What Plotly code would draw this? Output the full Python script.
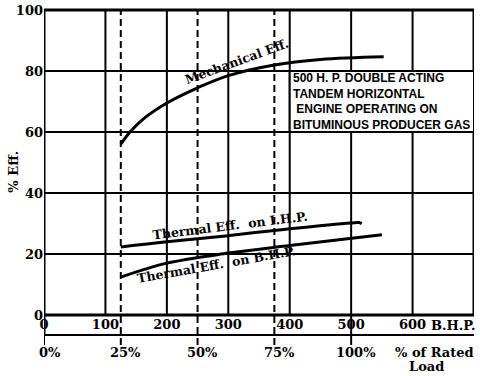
import plotly.graph_objects as go

# Engine load in brake horse power (B.H.P.), rated load 500 B.H.P.
rated_bhp = 500
pct_of_rated = [0, 25, 50, 75, 100]
pct_labels = ["0%", "25%", "50%", "75%", "100%"]
bhp_ticks = [0, 100, 200, 300, 400, 500, 600]
eff_ticks = [0, 20, 40, 60, 80, 100]

# Curves
mech_bhp = [125, 140, 160, 200, 250, 300, 375, 450, 553]
mech_eff = [56, 60, 64, 69.5, 74.5, 78.5, 82, 83.8, 84.7]

ihp_bhp = [125, 200, 300, 400, 500, 513, 517]
ihp_eff = [22.3, 24.0, 26.0, 28.3, 30.2, 30.3, 29.9]

bhp_bhp = [125, 200, 300, 400, 550]
bhp_eff = [12.4, 17.0, 20.3, 22.8, 26.3]

note_lines = ["500 H. P. DOUBLE ACTING", "TANDEM HORIZONTAL",
              " ENGINE OPERATING ON", "BITUMINOUS PRODUCER GAS"]

SERIF = "DejaVu Serif"
SANS = "Liberation Sans"
BAND = -20 / 305     # bottom of the B.H.P. label band (paper units)
TICK_END = -30 / 305

fig = go.Figure()

for xs, ys in [(mech_bhp, mech_eff), (ihp_bhp, ihp_eff), (bhp_bhp, bhp_eff)]:
    fig.add_trace(go.Scatter(x=xs, y=ys, mode="lines",
                             line=dict(color="black", width=3, shape="spline"),
                             showlegend=False, hoverinfo="skip"))

shapes = []
# horizontal grid
for v in eff_ticks[1:-1]:
    shapes.append(dict(type="line", xref="x", yref="y", x0=0, x1=700, y0=v, y1=v,
                       line=dict(color="black", width=2)))
# vertical solid grid (B.H.P.)
for v in bhp_ticks[1:]:
    shapes.append(dict(type="line", xref="x", yref="paper", x0=v, x1=v, y0=0, y1=1,
                       line=dict(color="black", width=2)))
# dashed quarter-load lines
for p in pct_of_rated[1:-1]:
    v = rated_bhp * p / 100
    shapes.append(dict(type="line", xref="x", yref="paper", x0=v, x1=v, y0=TICK_END, y1=1,
                       line=dict(color="black", width=2, dash="7px,4px")))
# ticks on the % axis
for p in [0, 100]:
    v = rated_bhp * p / 100
    shapes.append(dict(type="line", xref="x", yref="paper", x0=v, x1=v, y0=TICK_END, y1=0,
                       line=dict(color="black", width=2)))
# frame
shapes += [
    dict(type="line", xref="x", yref="paper", x0=0, x1=0, y0=BAND, y1=1,
         line=dict(color="black", width=3)),
    dict(type="line", xref="x", yref="paper", x0=700, x1=700, y0=0, y1=1,
         line=dict(color="black", width=3)),
    dict(type="line", xref="x", yref="paper", x0=0, x1=700, y0=1, y1=1,
         line=dict(color="black", width=3)),
    dict(type="line", xref="x", yref="paper", x0=0, x1=700, y0=0, y1=0,
         line=dict(color="black", width=3)),
    dict(type="line", xref="x", yref="paper", x0=0, x1=700, y0=BAND, y1=BAND,
         line=dict(color="black", width=2)),
]
# note box
shapes.append(dict(type="rect", xref="x", yref="y", x0=400, x1=700, y0=60, y1=80,
                   fillcolor="white", line=dict(color="black", width=2)))
fig.update_layout(shapes=shapes)

lab = dict(family=SERIF, size=12.5, color="black", weight="bold")
fig.add_annotation(x=313, y=83.2, text="Mechanical Eff.", showarrow=False,
                   textangle=-20, font=lab)
fig.add_annotation(x=303, y=29.5, text="Thermal Eff.  on I.H.P.", showarrow=False,
                   textangle=-7, font=lab)
fig.add_annotation(x=281, y=16.6, text="Thermal Eff.  on B.H.P.", showarrow=False,
                   textangle=-10, font=lab)

fig.add_annotation(x=402, y=70, xanchor="left", yanchor="middle", align="left",
                   text="<br>".join(note_lines), showarrow=False,
                   font=dict(family=SANS, size=12, color="black", weight="bold"))

tick = dict(family=SERIF, size=13, color="black", weight="bold")
fig.add_annotation(x=-30 / 430, y=0.47, xref="paper", yref="paper", xanchor="center",
                   yanchor="middle", text="% Eff.", textangle=-90,
                   showarrow=False, font=tick)
for p, t in zip(pct_of_rated, pct_labels):
    fig.add_annotation(x=rated_bhp * p / 100 + (10 if p == 0 else 8), y=-37 / 305,
                       xref="x", yref="paper", yanchor="middle",
                       text=t, showarrow=False, font=tick)
fig.add_annotation(x=627, y=-10 / 305, xref="x", yref="paper", xanchor="left",
                   yanchor="middle", text="B.H.P.", showarrow=False, font=tick)
fig.add_annotation(x=636, y=-37 / 305, xref="x", yref="paper", yanchor="middle",
                   text="% of Rated", showarrow=False, font=tick)
fig.add_annotation(x=623, y=-51 / 305, xref="x", yref="paper", yanchor="middle",
                   text="Load", showarrow=False, font=tick)

fig.update_xaxes(range=[0, 700], tickvals=bhp_ticks, ticks="", showgrid=False,
                 zeroline=False, showline=False, tickfont=tick, automargin=False)
fig.update_yaxes(range=[0, 100], tickvals=eff_ticks, ticks="", showgrid=False,
                 zeroline=False, showline=False, tickfont=tick, automargin=False)

fig.update_layout(width=480, height=376, margin=dict(l=44, r=6, t=10, b=61),
                  paper_bgcolor="white", plot_bgcolor="white")

# drop the browser's default page margin so the figure sits at the top-left corner
fig.write_html("out.html", config={"displayModeBar": False},
               post_script="document.body.style.margin='0px';")
